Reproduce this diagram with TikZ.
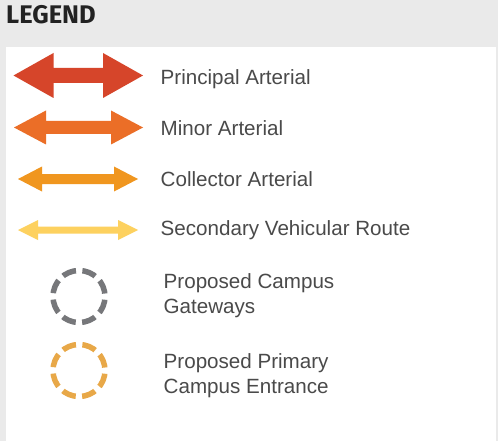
\documentclass[tikz,border=0pt]{standalone}
\usepackage{fontspec}
\setmainfont{Liberation Sans}
\newfontfamily\titlefont{Fira Sans}
\definecolor{bggrey}{HTML}{EAEAEA}
\definecolor{txtgrey}{HTML}{4A4A4A}
\definecolor{titlecol}{HTML}{222222}
\definecolor{pcol}{HTML}{D6452A}
\definecolor{mcol}{HTML}{EB6E27}
\definecolor{ccol}{HTML}{F0961F}
\definecolor{scol}{HTML}{FDD15F}
\definecolor{gwcol}{HTML}{76777A}
\definecolor{encol}{HTML}{E8A848}
\newcommand\legarrow[7]{% x1 x2 y headhalf shafthalf headlen color
  \fill[#7] (#1,#3) -- (#1+#6,#3-#4) -- (#1+#6,#3-#5) -- (#2-#6,#3-#5) -- (#2-#6,#3-#4)
    -- (#2,#3) -- (#2-#6,#3+#4) -- (#2-#6,#3+#5) -- (#1+#6,#3+#5) -- (#1+#6,#3+#4) -- cycle;}
\tikzset{
  lbl/.style={anchor=base west, inner sep=0pt, text=txtgrey, align=left,
    font=\fontsize{20.6}{24.5}\selectfont},
  gatering/.style={line width=5.5pt, dash pattern=on 14pt off 6.42pt, dash phase=17.2pt}
}
\begin{document}
\begin{tikzpicture}[x=1pt,y=-1pt]
\useasboundingbox (0,0) rectangle (498,441);
\fill[bggrey] (0,0) rectangle (498,441);
\fill[white] (6,47) rectangle (496,441);
\node[anchor=base west, inner sep=0pt, text=titlecol,
  font=\titlefont\bfseries\fontsize{25.5}{28}\selectfont] (title) at (6,24) {LEGEND};
% arrows
\legarrow{13.5}{143}{75.5}{22.5}{7.5}{40}{pcol}
\legarrow{14}{143}{127.5}{17}{6.5}{32}{mcol}
\legarrow{18}{138}{179}{12.5}{5}{24}{ccol}
\legarrow{18}{138}{230}{10}{3.5}{20}{scol}
\node[lbl] (pa) at (160.5,85) {Principal Arterial};
\node[lbl] (ma) at (160.5,136) {Minor Arterial};
\node[lbl] (ca) at (160.5,186) {Collector Arterial};
\node[lbl] (sv) at (160.5,235) {Secondary Vehicular Route};
% circles
\draw[gatering, gwcol] (79,296.5) circle[radius=26];
\draw[gatering, encol] (79,370.5) circle[radius=26];
\node[lbl] (gw) at (163.5,313) {Proposed Campus\\Gateways};
\node[lbl] (en) at (163.5,393) {Proposed Primary\\Campus Entrance};
\end{tikzpicture}
\end{document}
